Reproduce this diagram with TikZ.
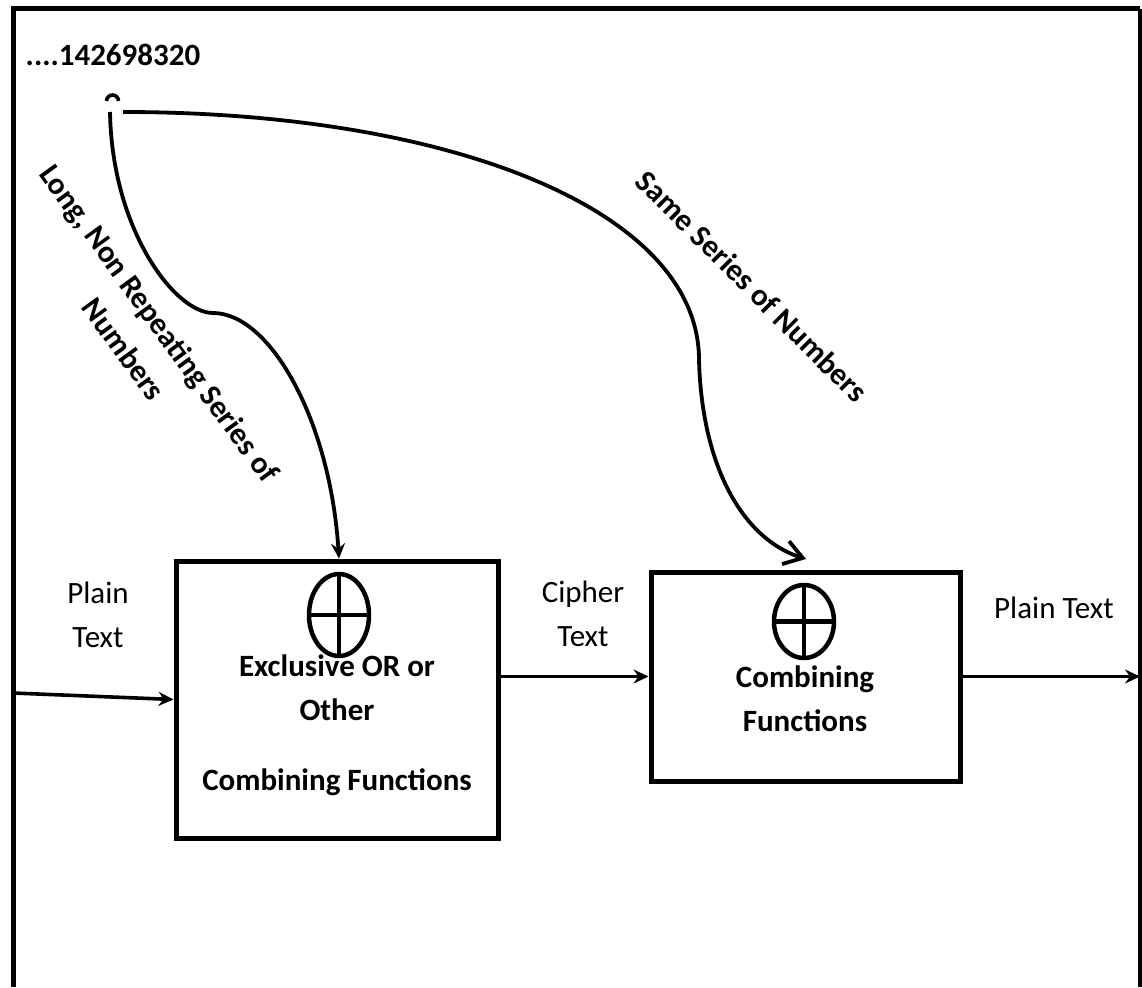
\documentclass[tikz,border=0pt]{standalone}
\usepackage{fontspec}
\setmainfont{Carlito}
\usetikzlibrary{arrows.meta,shapes.geometric}

\begin{document}
\begin{tikzpicture}[x=1pt,y=-1pt,
  txt/.style={inner sep=0pt, align=center, font=\fontsize{31}{44}\selectfont},
  btxt/.style={inner sep=0pt, align=center, font=\fontsize{31}{44}\selectfont\bfseries},
  blockbox/.style={draw, line width=5pt, inner sep=0pt, line join=miter},
  xorsym/.style={ellipse, draw, line width=4.5pt, inner sep=0pt, outer sep=0pt},
  conn/.style={line width=3.6pt, -{Stealth[length=15pt,width=14pt,inset=5pt]}},
  curve/.style={line width=3.8pt}
]
\useasboundingbox (0,0) rectangle (1142,987);

% outer frame
\draw[line width=5pt, line join=miter] (13,987) -- (13,9) -- (1140,9);
\draw[line width=3.5pt] (1140,9) -- (1140,987);

% processing blocks
\node[blockbox, minimum width=322pt, minimum height=277pt] (xor) at (337,699.5) {};
\node[blockbox, minimum width=309pt, minimum height=209pt] (cf) at (805.5,676.5) {};

% texts (base anchor sits on the last line)
\node[btxt, anchor=base] (seq) at (113,66) {....142698320};
\node[txt, anchor=base] (pin) at (98,647) {Plain\\Text};
\node[txt, anchor=base] (ctext) at (583,646) {Cipher\\Text};
\node[txt, anchor=base] (pout) at (1054,618) {Plain Text};
\node[btxt, anchor=base] (xortext) at (337,790) {Exclusive OR or\\Other\\[26pt]Combining Functions};
\node[btxt, anchor=base] (cftext) at (805,731) {Combining\\Functions};
\node[btxt, rotate=-54] (longlbl) at (142,336) {Long, Non Repeating Series of\\Numbers};
\node[btxt, rotate=-45] (samelbl) at (752,286) {Same Series of Numbers};

% combining symbols
\node[xorsym, minimum width=60pt, minimum height=82pt] (x1) at (339,615) {};
\draw[line width=4.5pt] (x1.north) -- (x1.south) (x1.west) -- (x1.east);
\node[xorsym, minimum width=60pt, minimum height=73pt] (x2) at (804,621.5) {};
\draw[line width=4.5pt] (x2.north) -- (x2.south) (x2.west) -- (x2.east);

% key stream source
\coordinate (src1) at (110,112);
\coordinate (src2) at (123,112);
\coordinate (dip) at (213,313);
\coordinate (bend) at (699,360);
\coordinate (tip2) at (806,559);
\draw[line width=3.6pt] (106.5,101) arc[start angle=180, end angle=360, radius=6];

\draw[curve, -{Stealth[length=15pt,width=14pt,inset=5pt]}]
  (src1) .. controls (112,230) and (175,313) .. (dip)
         .. controls (270,313) and (330,420) .. ([xshift=2pt]xor.north);
\draw[curve, -{Straight Barb[length=18pt,width=24pt]}]
  (src2) .. controls (450,112) and (699,210) .. (bend)
         .. controls (702,470) and (745,540) .. (tip2);

% data path
\coordinate (inStart) at (13,693);
\coordinate (outEnd) at (1140,676.5);
\draw[conn] (inStart) -- (xor.west);
\draw[conn] (xor.east |- cf.west) -- (cf.west);
\draw[conn] (cf.east) -- (outEnd);
\end{tikzpicture}
\end{document}
